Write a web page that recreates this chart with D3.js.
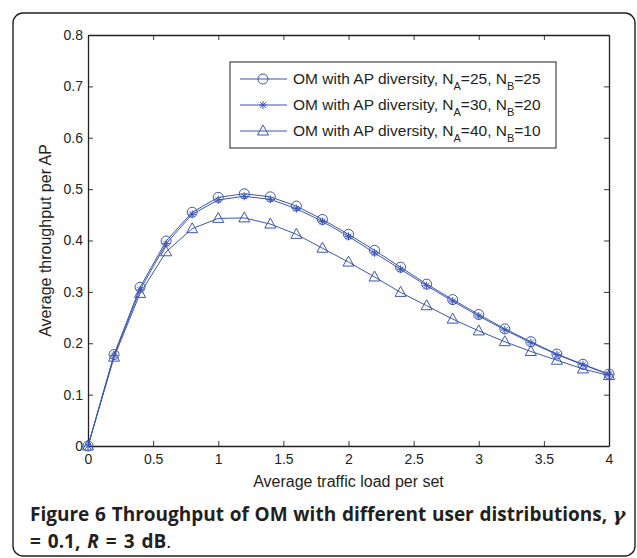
<!DOCTYPE html>
<html>
<head>
<meta charset="utf-8">
<script src="https://cdn.jsdelivr.net/npm/d3@7"></script>
<style>
  body { margin: 0; background: #fff; }
  svg { display: block; }
</style>
</head>
<body>
<svg id="chart" width="637" height="558"></svg>
<script>
// traffic load values (x)
var loads = [0, 0.2, 0.4, 0.6, 0.8, 1.0, 1.2, 1.4, 1.6, 1.8, 2.0, 2.2, 2.4, 2.6, 2.8, 3.0, 3.2, 3.4, 3.6, 3.8, 4.0];

// throughput per AP
var om25_25 = [0, 0.178, 0.309, 0.399, 0.455, 0.484, 0.491, 0.485, 0.467, 0.441, 0.412, 0.381, 0.348, 0.315, 0.285, 0.256, 0.228, 0.203, 0.179, 0.159, 0.140];
var om30_20 = [0, 0.176, 0.304, 0.394, 0.451, 0.479, 0.486, 0.480, 0.462, 0.437, 0.408, 0.376, 0.344, 0.312, 0.282, 0.253, 0.226, 0.201, 0.178, 0.158, 0.139];
var om40_10 = [0, 0.173, 0.297, 0.378, 0.423, 0.443, 0.444, 0.432, 0.412, 0.385, 0.358, 0.329, 0.299, 0.273, 0.247, 0.224, 0.203, 0.184, 0.167, 0.150, 0.137];

var seriesNames = [["25", "25"], ["30", "20"], ["40", "10"]];
var seriesMarkers = ["circle", "star", "triangle"];

var xTicks = [0, 0.5, 1, 1.5, 2, 2.5, 3, 3.5, 4];
var yTicks = [0, 0.1, 0.2, 0.3, 0.4, 0.5, 0.6, 0.7, 0.8];

var blue = "#3b55b3";
var ink = "#231f20";
var sansFont = "'Liberation Sans', Arial, sans-serif";

var svg = d3.select("#chart");

// outer figure border
svg.append("rect")
  .attr("x", 13).attr("y", 13)
  .attr("width", 622).attr("height", 543)
  .attr("rx", 10)
  .attr("fill", "none")
  .attr("stroke", ink)
  .attr("stroke-width", 1.4);

// plot box ("top" clashes with window.top, so plotTop etc.)
var plotLeft = 88, plotRight = 609, plotTop = 35, plotBottom = 446;

var x = d3.scaleLinear().domain([0, 4]).range([plotLeft, plotRight]);
var y = d3.scaleLinear().domain([0, 0.8]).range([plotBottom, plotTop]);

var g = svg.append("g")
  .attr("font-family", sansFont)
  .attr("font-size", 16);

// axes with inward ticks, mirrored on top / right
var xAxis = g.append("g").attr("transform", "translate(0," + plotBottom + ")")
  .call(d3.axisBottom(x).tickValues(xTicks).tickSizeInner(-5).tickSizeOuter(0).tickPadding(10)
    .tickFormat(function (d) { return d3.format("")(d); }));
var xTop = g.append("g").attr("transform", "translate(0," + plotTop + ")")
  .call(d3.axisTop(x).tickValues(xTicks).tickSizeInner(-5).tickSizeOuter(0).tickFormat(""));
var yAxis = g.append("g").attr("transform", "translate(" + plotLeft + ",0)")
  .call(d3.axisLeft(y).tickValues(yTicks).tickSizeInner(-5).tickSizeOuter(0).tickPadding(5)
    .tickFormat(function (d) { return d3.format("")(d); }));
var yRight = g.append("g").attr("transform", "translate(" + plotRight + ",0)")
  .call(d3.axisRight(y).tickValues(yTicks).tickSizeInner(-5).tickSizeOuter(0).tickFormat(""));

[xAxis, xTop, yAxis, yRight].forEach(function (a) {
  a.attr("font-family", sansFont).attr("font-size", 14);
});
g.selectAll(".domain").attr("stroke", ink).attr("stroke-width", 1.3);
g.selectAll(".tick line").attr("stroke", ink).attr("stroke-width", 0.9);
g.selectAll(".tick text").attr("fill", ink);
xAxis.selectAll(".tick text").attr("dy", "0.6em");

// axis titles
g.append("text")
  .attr("x", (plotLeft + plotRight) / 2).attr("y", 487)
  .attr("text-anchor", "middle")
  .attr("fill", ink)
  .text("Average traffic load per set");
g.append("text")
  .attr("transform", "translate(51," + (plotTop + plotBottom) / 2 + ") rotate(-90)")
  .attr("text-anchor", "middle")
  .attr("fill", ink)
  .text("Average throughput per AP");

// marker drawing
function drawMarker(sel, kind) {
  if (kind === "circle") {
    sel.append("circle").attr("r", 5)
      .attr("fill", "none").attr("stroke", blue).attr("stroke-width", 1);
  } else if (kind === "star") {
    var s = 4;
    var p = "M" + (-s) + ",0L" + s + ",0M0," + (-s) + "L0," + s +
      "M" + (-s * 0.7) + "," + (-s * 0.7) + "L" + (s * 0.7) + "," + (s * 0.7) +
      "M" + (-s * 0.7) + "," + (s * 0.7) + "L" + (s * 0.7) + "," + (-s * 0.7);
    sel.append("path").attr("d", p)
      .attr("fill", "none").attr("stroke", blue).attr("stroke-width", 1);
  } else {
    sel.append("path").attr("d", "M0,-6L5.5,4L-5.5,4Z")
      .attr("fill", "none").attr("stroke", blue).attr("stroke-width", 1);
  }
}

var allSeries = [om25_25, om30_20, om40_10];
var line = d3.line()
  .x(function (d, i) { return x(loads[i]); })
  .y(function (d) { return y(d); });

allSeries.forEach(function (vals, k) {
  g.append("path").datum(vals)
    .attr("d", line)
    .attr("fill", "none")
    .attr("stroke", blue)
    .attr("stroke-width", 1);
  g.selectAll(".m" + k).data(vals).enter().append("g")
    .attr("class", "m" + k)
    .attr("transform", function (d, i) { return "translate(" + x(loads[i]) + "," + y(d) + ")"; })
    .each(function () { drawMarker(d3.select(this), seriesMarkers[k]); });
});

// legend
var leg = g.append("g").attr("font-size", 15.5);
leg.append("rect")
  .attr("x", 230).attr("y", 62).attr("width", 326).attr("height", 86)
  .attr("fill", "#fff").attr("stroke", ink).attr("stroke-width", 1);
var rowY = [79, 105, 131];
seriesNames.forEach(function (nm, k) {
  var row = leg.append("g").attr("transform", "translate(0," + rowY[k] + ")");
  row.append("line").attr("x1", 240).attr("x2", 287)
    .attr("stroke", blue).attr("stroke-width", 1);
  drawMarker(row.append("g").attr("transform", "translate(263,0)"), seriesMarkers[k]);
  var t = row.append("text").attr("x", 293).attr("y", 5).attr("fill", ink);
  t.append("tspan").text("OM with AP diversity, N");
  t.append("tspan").attr("dy", 6).attr("font-size", 11).text("A");
  t.append("tspan").attr("dy", -6).text("=" + nm[0] + ", N");
  t.append("tspan").attr("dy", 6).attr("font-size", 11).text("B");
  t.append("tspan").attr("dy", -6).text("=" + nm[1]);
});

// caption
var cap = svg.append("g")
  .attr("font-family", "'Open Sans', 'Noto Sans', sans-serif")
  .attr("font-size", 19)
  .attr("font-weight", "bold")
  .attr("fill", ink);
var c1 = cap.append("text").attr("x", 30).attr("y", 521).attr("word-spacing", 0.8);
c1.append("tspan").text("Figure 6 Throughput of OM with different user distributions, ");
c1.append("tspan").attr("font-style", "italic").attr("font-family", "'DejaVu Serif', serif").text("γ");
var c2 = cap.append("text").attr("x", 30).attr("y", 548).attr("word-spacing", 2);
c2.append("tspan").text("= 0.1, ");
c2.append("tspan").attr("font-style", "italic").text("R");
c2.append("tspan").text(" = 3 dB");
c2.append("tspan").attr("font-weight", "normal").text(".");
</script>
</body>
</html>
